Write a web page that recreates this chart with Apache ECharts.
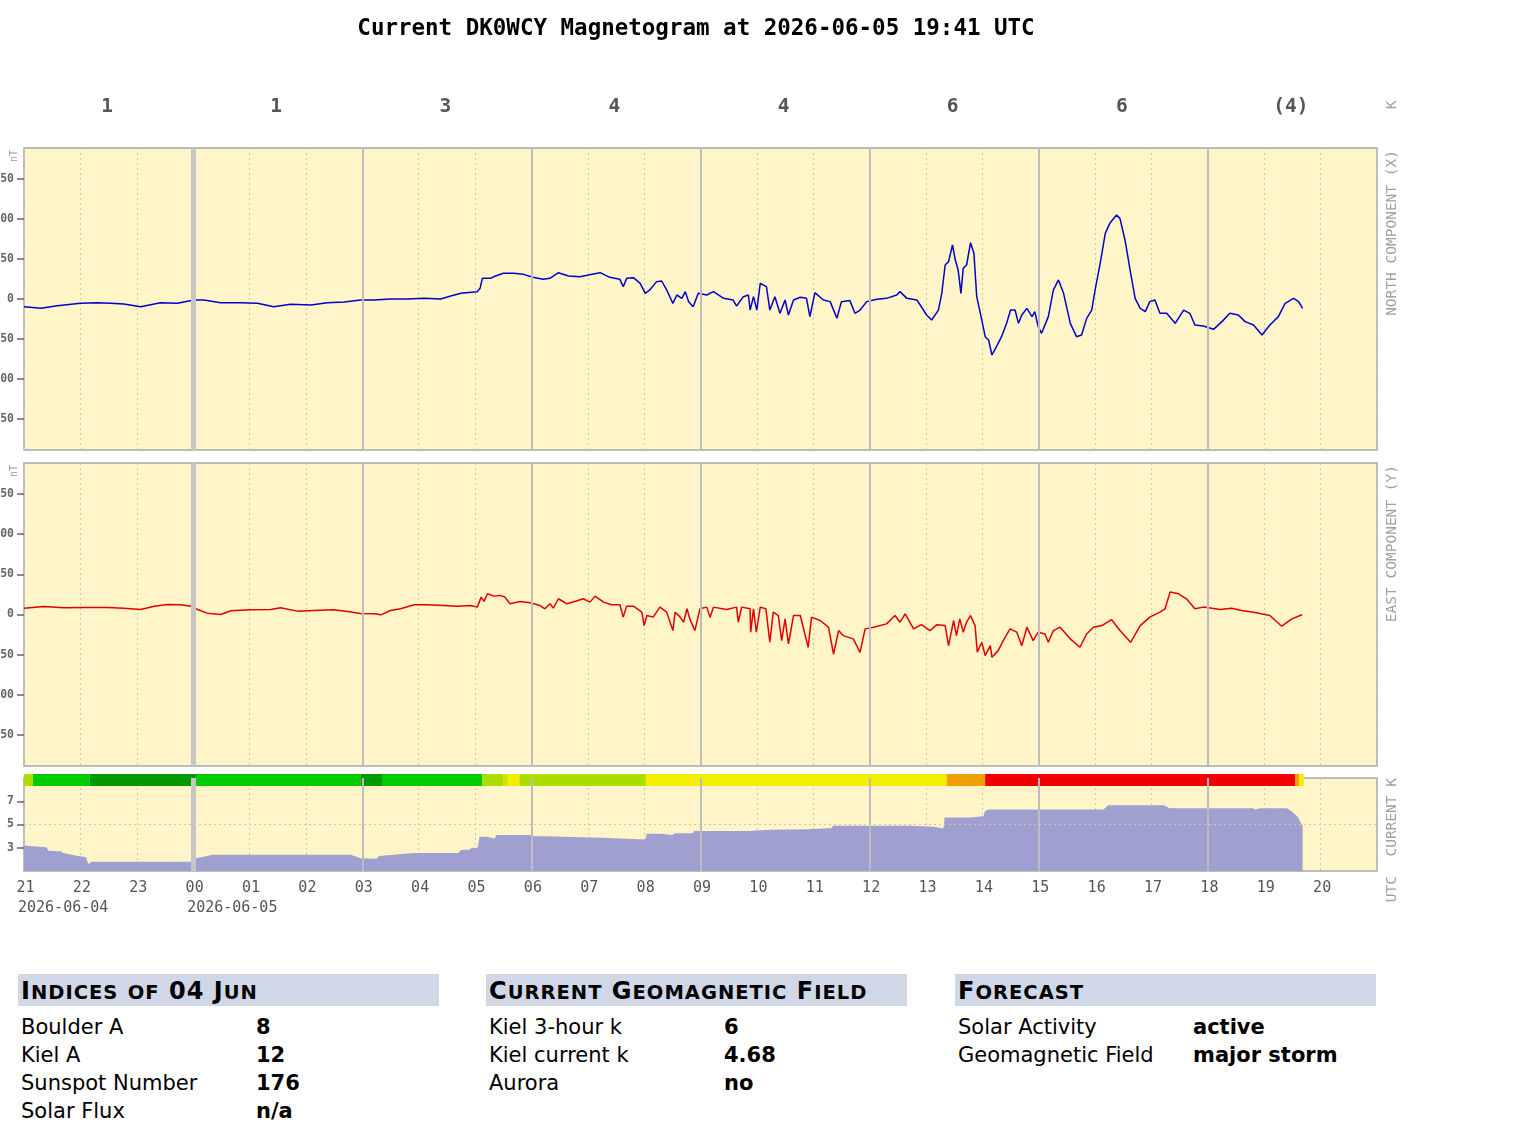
<!DOCTYPE html>
<html>
<head>
<meta charset="utf-8">
<title>DK0WCY Magnetogram</title>
<script src="https://cdn.jsdelivr.net/npm/echarts@6/dist/echarts.min.js"></script>
<style>
body { margin: 0; background: #fff; width: 1527px; height: 1138px; position: relative; overflow: hidden; font-family: "DejaVu Sans", Verdana, sans-serif; }
#chart { position: absolute; left: 0; top: 0; width: 1527px; height: 940px; }
.box { position: absolute; top: 974px; width: 421px; color: #000; }
.box h2 { margin: 0; height: 32px; line-height: 34px; background: #d0d8e8; font-size: 24px; font-weight: bold; padding-left: 3px; letter-spacing: 1px; white-space: nowrap; }
.box h2 span { font-size: 19.5px; }
.box table { border-collapse: collapse; margin-top: 7px; }
.box td { font-size: 21px; height: 28px; padding: 0 0 0 3px; white-space: nowrap; }
.box td.k { width: 232px; }
.box td.v { font-weight: bold; }
</style>
</head>
<body>
<div id="chart"></div>
<script>
// hours relative to 2026-06-05 00:00 UTC, axis runs 21 UTC (day before) -> 21 UTC
const kIndex3h = ['1', '1', '3', '4', '4', '6', '6', '(4)'];
const kIndexMid = [-1.5, 1.5, 4.5, 7.5, 10.5, 13.5, 16.5, 19.5];
const solidHours = [0, 3, 6, 9, 12, 15, 18];
const dateTicks = [-3, 0];
const dateNames = ['2026-06-04', '2026-06-05'];

// north component (X), [hour, nT]
const northX = [
  [-3.00, -9.6], [-2.70, -11.6], [-2.41, -8.3], [-2.00, -5.4], [-1.70, -4.6], [-1.46, -5.4],
  [-1.23, -6.3], [-0.93, -9.6], [-0.58, -4.6], [-0.28, -5.4], [0.02, -1.3], [0.19, -1.3],
  [0.49, -4.6], [0.84, -4.6], [1.14, -5.4], [1.43, -9.6], [1.73, -6.7], [2.09, -7.5],
  [2.38, -4.6], [2.68, -3.8], [2.97, -1.3], [3.21, -1.3], [3.50, 0], [3.80, 0],
  [4.10, 0.8], [4.39, 0], [4.57, 3.8], [4.75, 7.1], [5.04, 9.2], [5.09, 13.3],
  [5.13, 25.8], [5.28, 25.8], [5.33, 27.9], [5.50, 32.1], [5.68, 32.1], [5.86, 30.8],
  [6.03, 27.1], [6.21, 24.6], [6.33, 25.8], [6.48, 32.9], [6.66, 28.8], [6.86, 27.9],
  [7.10, 31.3], [7.22, 32.9], [7.39, 27.1], [7.57, 24.6], [7.63, 15.4], [7.69, 25.8],
  [7.81, 26.7], [7.93, 19.6], [8.02, 7.1], [8.10, 11.3], [8.22, 21.7], [8.31, 22.5],
  [8.40, 11.3], [8.51, -5.4], [8.58, 5], [8.67, 0.8], [8.73, 9.2], [8.79, -3.3],
  [8.87, -9.6], [8.96, 7.1], [9.11, 5], [9.23, 9.2], [9.41, 0.8], [9.58, -1.3],
  [9.64, -8.8], [9.76, 2.9], [9.85, 5], [9.88, -13.8], [9.94, 2.9], [10.00, -13.8],
  [10.06, 19.6], [10.17, 15.4], [10.23, -13.8], [10.32, 2.9], [10.41, -17.9], [10.50, -1.3],
  [10.56, -20], [10.65, -1.3], [10.77, 2.1], [10.88, 0.8], [10.94, -22], [11.03, 7.9],
  [11.18, -1.3], [11.30, -3.3], [11.42, -24], [11.50, -3.3], [11.65, -2], [11.74, -17.9],
  [11.83, -13.8], [11.95, -3.3], [12.13, -0.4], [12.30, 0.8], [12.48, 5], [12.54, 9.2],
  [12.66, 0.8], [12.84, -1.3], [12.92, -10], [13.01, -20], [13.10, -26.3], [13.22, -14],
  [13.28, 7.1], [13.34, 42.5], [13.40, 46.7], [13.47, 67.5], [13.52, 48.8], [13.57, 36.3],
  [13.62, 7.1], [13.66, 38.3], [13.72, 42.5], [13.79, 70.4], [13.85, 57.1], [13.90, 2.9],
  [13.99, -26.3], [14.05, -47.1], [14.11, -51.3], [14.17, -70], [14.25, -59.6], [14.34, -47.1],
  [14.43, -30.4], [14.50, -13.8], [14.58, -13.8], [14.64, -30.4], [14.70, -20], [14.79, -11.7],
  [14.88, -22], [14.93, -15.8], [14.99, -34.6], [15.05, -42.9], [15.17, -22], [15.26, 11.3],
  [15.35, 23.8], [15.44, 7.1], [15.56, -30.4], [15.67, -47.1], [15.76, -45], [15.85, -24.2],
  [15.94, -13.8], [16.00, 11.3], [16.09, 44.6], [16.18, 82], [16.26, 94.6], [16.38, 105],
  [16.44, 100.8], [16.53, 73.8], [16.62, 36.3], [16.71, 0.8], [16.80, -11.7], [16.89, -15.8],
  [16.97, -3.3], [17.06, -1.3], [17.15, -17.9], [17.27, -17.9], [17.42, -30.4], [17.57, -13.8],
  [17.68, -17.9], [17.77, -32.5], [17.92, -33.8], [18.10, -37.9], [18.25, -28.3], [18.39, -17.9],
  [18.54, -20], [18.66, -28.3], [18.81, -32.5], [18.96, -45], [19.10, -32.5], [19.25, -22],
  [19.37, -5.4], [19.52, 0.8], [19.61, -3.3], [19.68, -11.7]
];

// east component (Y), [hour, nT]
const eastY = [
  [-3.00, 7.9], [-2.65, 10], [-2.29, 8.3], [-1.94, 8.8], [-1.52, 8.8], [-1.23, 7.9],
  [-0.93, 6.3], [-0.69, 10.4], [-0.46, 12.5], [-0.22, 12.1], [-0.04, 10.4], [0.08, 6.3],
  [0.25, 1.7], [0.49, 0], [0.67, 4.6], [1.02, 5.8], [1.38, 6.3], [1.55, 8.3],
  [1.85, 4.2], [2.14, 5], [2.50, 5.8], [2.74, 3.8], [2.97, 1.3], [3.21, 0.8],
  [3.33, -0.4], [3.50, 5], [3.68, 7.1], [3.92, 12.1], [4.16, 12.1], [4.45, 11.3],
  [4.69, 10.4], [4.92, 11.3], [5.04, 9.2], [5.11, 21.7], [5.16, 16.3], [5.22, 25.8],
  [5.34, 22.9], [5.44, 23.8], [5.53, 21.7], [5.62, 13.3], [5.80, 16.3], [5.98, 14.6],
  [6.15, 11.3], [6.24, 7.1], [6.33, 13.3], [6.39, 7.9], [6.48, 19.6], [6.63, 13.3],
  [6.77, 16.3], [6.92, 19.6], [7.04, 15.4], [7.13, 22.9], [7.28, 15.4], [7.42, 12.1],
  [7.57, 12.1], [7.63, -3.3], [7.69, 10.4], [7.81, 10.4], [7.96, 2.9], [8.00, -13.8],
  [8.05, -1.3], [8.16, -3.3], [8.28, 9.2], [8.40, 2.9], [8.51, -20], [8.55, 2.9],
  [8.64, -3.3], [8.70, -9.6], [8.76, 7.1], [8.81, -5.4], [8.90, -20], [8.99, 7.1],
  [9.11, 9.2], [9.17, -3.3], [9.23, 9.2], [9.46, 6.3], [9.64, 9.2], [9.67, -9.6],
  [9.73, 9.2], [9.88, 7.1], [9.89, -22], [9.94, 7.1], [9.99, -22], [10.06, 9.2],
  [10.16, 7.1], [10.23, -34.6], [10.29, 2.9], [10.38, -1.3], [10.44, -32.5], [10.50, -5.4],
  [10.56, -36.7], [10.65, -1.3], [10.77, -1.3], [10.91, -40.8], [10.97, -3.3], [11.12, -7.5],
  [11.27, -15.8], [11.36, -49.2], [11.45, -20], [11.53, -26.3], [11.71, -30.4], [11.83, -47.1],
  [11.92, -17.9], [12.07, -15.8], [12.30, -11.7], [12.45, -1.3], [12.54, -9.6], [12.63, 0.8],
  [12.78, -17.9], [12.92, -12.5], [13.07, -20], [13.19, -12.9], [13.34, -13.8], [13.40, -38.8],
  [13.49, -7.5], [13.54, -26.3], [13.60, -5.4], [13.66, -22], [13.72, -9.6], [13.79, -1.3],
  [13.87, -13.8], [13.91, -47.1], [13.99, -34.6], [14.05, -51.3], [14.14, -38.8], [14.17, -53.3],
  [14.28, -45], [14.37, -32.5], [14.49, -17.9], [14.61, -22], [14.70, -38.8], [14.79, -15.8],
  [14.90, -32.5], [14.99, -22], [15.11, -24.2], [15.17, -34.6], [15.26, -20], [15.38, -15.8],
  [15.56, -30.4], [15.73, -40.8], [15.85, -24.2], [15.97, -15.8], [16.12, -13.8], [16.29, -6.3],
  [16.44, -20], [16.63, -34.6], [16.80, -13.8], [16.97, -3.3], [17.15, 2.9], [17.24, 7.1],
  [17.33, 27.9], [17.48, 25.8], [17.62, 19.6], [17.77, 7.1], [17.92, 9.2], [18.22, 6.3],
  [18.42, 7.9], [18.60, 5], [18.81, 2.9], [19.10, -1.3], [19.31, -14.6], [19.49, -5.4],
  [19.67, -0.4]
];

// current K, [hour, K]
const currentK = [
  [-3.00, 3.2], [-2.60, 3.05], [-2.57, 2.75], [-2.35, 2.7], [-2.30, 2.55], [-2.05, 2.3],
  [-1.90, 2.2], [-1.86, 1.6], [-1.80, 1.8], [-0.02, 1.8], [0.05, 2.1], [0.25, 2.3],
  [0.35, 2.4], [2.80, 2.4], [2.97, 2.1], [3.25, 2.05], [3.30, 2.3], [3.55, 2.4],
  [3.90, 2.55], [4.70, 2.55], [4.75, 2.8], [4.90, 2.85], [4.95, 3.0], [5.05, 3.0],
  [5.08, 3.95], [5.20, 3.95], [5.22, 3.8], [5.35, 3.8], [5.38, 4.1], [6.00, 4.1],
  [6.05, 4.0], [6.25, 4.0], [6.28, 3.85], [7.25, 3.85], [7.28, 3.7], [8.02, 3.7],
  [8.05, 4.2], [8.30, 4.2], [8.32, 4.1], [8.50, 4.1], [8.55, 4.25], [8.86, 4.25],
  [8.88, 4.45], [9.87, 4.45], [9.89, 4.55], [10.23, 4.55], [10.25, 4.6], [10.90, 4.6],
  [10.92, 4.7], [11.33, 4.7], [11.35, 4.9], [12.75, 4.9], [12.77, 4.8], [13.15, 4.8],
  [13.17, 4.65], [13.31, 4.65], [13.33, 5.6], [13.78, 5.6], [13.80, 5.7], [14.02, 5.7],
  [14.04, 6.1], [14.10, 6.3], [16.15, 6.3], [16.23, 6.65], [17.22, 6.65], [17.32, 6.4],
  [18.80, 6.4], [18.84, 6.3], [18.92, 6.4], [19.40, 6.4], [19.50, 6.1], [19.60, 5.6],
  [19.68, 4.9]
];

// colour bar above the current K panel, [from hour, to hour, activity class]
const kBar = [
  [-3.00, -2.84, 2], [-2.84, -1.84, 1], [-1.84, 0.05, 0], [0.05, 2.97, 1], [2.97, 3.35, 0],
  [3.35, 5.13, 1], [5.13, 5.50, 2], [5.50, 5.58, 3], [5.58, 5.79, 4], [5.79, 8.03, 2],
  [8.03, 13.37, 4], [13.37, 14.05, 5], [14.05, 19.55, 6], [19.55, 19.62, 5], [19.62, 19.70, 4]
];
const KCOLORS = ['#009a00', '#00cc00', '#acdc00', '#cde600', '#f4ef00', '#f0a000', '#f00000'];

const indicesRows = [['Boulder A', '8'], ['Kiel A', '12'], ['Sunspot Number', '176'], ['Solar Flux', 'n/a']];
const fieldRows = [['Kiel 3-hour k', '6'], ['Kiel current k', '4.68'], ['Aurora', 'no']];
const forecastRows = [['Solar Activity', 'active'], ['Geomagnetic Field', 'major storm']];
const boxTitles = ['Indices of 04 Jun', 'Current Geomagnetic Field', 'Forecast'];

const BG = '#fff5c8';
const BORDER = '#a8a8a8';
const MONO = '"DejaVu Sans Mono", monospace';
const PANEL_LEFT = 24, PANEL_W = 1353;
const NT_MAX = 188.75;

const pad2 = h => (h < 10 ? '0' : '') + h;

function grid(top, height, show) {
  return { left: PANEL_LEFT, width: PANEL_W, top: top, height: height, show: show,
    outerBoundsMode: 'none', containLabel: false,
    backgroundColor: BG, borderColor: BORDER, borderWidth: 1.5 };
}

function hourAxis(gridIndex, withLabels) {
  return {
    type: 'value', gridIndex: gridIndex, min: -3, max: 21, interval: 1, position: 'bottom',
    axisLine: { show: false, onZero: false }, axisTick: { show: false },
    axisLabel: withLabels ? {
      show: true, showMinLabel: true, showMaxLabel: false, hideOverlap: false,
      margin: 10, padding: [0, 0, 0, 3], color: '#555', fontFamily: MONO, fontSize: 15,
      formatter: v => (v >= 21 ? '' : pad2(((v % 24) + 24) % 24))
    } : { show: false },
    splitLine: { show: true, lineStyle: { color: '#cfc8a8', type: [2, 3], width: 1 } }
  };
}

function ntAxis(gridIndex) {
  const ticks = [-150, -100, -50, 0, 50, 100, 150];
  return {
    type: 'value', gridIndex: gridIndex, min: -NT_MAX, max: NT_MAX,
    axisLine: { show: false, onZero: false },
    axisTick: { show: true, length: 7, customValues: ticks, lineStyle: { color: '#666', width: 1.5 } },
    axisLabel: { show: true, customValues: ticks, margin: 10, color: '#666',
      fontFamily: MONO, fontSize: 11.5, fontWeight: 'bold' },
    splitLine: { show: false }
  };
}

function guideSeries(xIdx, yIdx, extra) {
  const data = solidHours.map(h => ({
    xAxis: h,
    lineStyle: h === 0 ? { color: '#c6c6c6', width: 5, type: 'solid' } : { color: '#bdbdbd', width: 2, type: 'solid' }
  }));
  return {
    type: 'line', xAxisIndex: xIdx, yAxisIndex: yIdx, data: [], z: 1, silent: true,
    markLine: { symbol: 'none', silent: true, animation: false, label: { show: false },
      data: data.concat(extra || []) }
  };
}

const chart = echarts.init(document.getElementById('chart'), null, { renderer: 'canvas' });

const option = {
  animation: false,
  grid: [grid(148, 302, true), grid(463, 303, true), grid(778, 93, true), grid(774, 12, false)],
  xAxis: [
    hourAxis(0, false),
    {
      type: 'value', gridIndex: 0, min: -3, max: 21, position: 'top',
      axisLine: { show: false, onZero: false }, axisTick: { show: false }, splitLine: { show: false },
      axisLabel: { show: true, customValues: kIndexMid, margin: 31, color: '#555',
        fontFamily: MONO, fontSize: 19.5, fontWeight: 'bold', padding: [0, 3, 0, 0],
        formatter: v => kIndex3h[kIndexMid.indexOf(v)] || '' }
    },
    hourAxis(1, false),
    hourAxis(2, true),
    { type: 'value', gridIndex: 3, min: -3, max: 21, show: false },
    {
      type: 'value', gridIndex: 2, min: -3, max: 21, position: 'bottom',
      axisLine: { show: false, onZero: false }, axisTick: { show: false }, splitLine: { show: false },
      axisLabel: { show: true, customValues: dateTicks, showMinLabel: true, hideOverlap: false,
        align: 'left', padding: [0, 0, 0, -6], margin: 30, color: '#555', fontFamily: MONO, fontSize: 15,
        formatter: v => dateNames[dateTicks.indexOf(v)] || '' }
    }
  ],
  yAxis: [
    ntAxis(0),
    ntAxis(1),
    {
      type: 'value', gridIndex: 2, min: 1, max: 9,
      axisLine: { show: false, onZero: false },
      axisTick: { show: true, length: 7, customValues: [3, 5, 7], lineStyle: { color: '#666', width: 1.5 } },
      axisLabel: { show: true, customValues: [3, 5, 7], margin: 10, color: '#666',
        fontFamily: MONO, fontSize: 11.5, fontWeight: 'bold' },
      splitLine: { show: false }
    },
    { type: 'value', gridIndex: 3, min: 0, max: 1, show: false }
  ],
  series: [
    guideSeries(0, 0),
    guideSeries(2, 1),
    guideSeries(3, 2, [{ yAxis: 5, lineStyle: { color: '#cfc8a8', type: [2, 3], width: 1 } }]),
    {
      name: 'North component (X)', type: 'line', xAxisIndex: 0, yAxisIndex: 0, data: northX,
      showSymbol: false, z: 3, lineStyle: { color: '#0000cc', width: 1.5 }
    },
    {
      name: 'East component (Y)', type: 'line', xAxisIndex: 2, yAxisIndex: 1, data: eastY,
      showSymbol: false, z: 3, lineStyle: { color: '#e00000', width: 1.5 }
    },
    {
      name: 'Current K', type: 'line', xAxisIndex: 3, yAxisIndex: 2, data: currentK,
      showSymbol: false, z: 3, lineStyle: { width: 0 },
      areaStyle: { color: '#a0a0d0', opacity: 1, origin: 'start' }
    },
    {
      name: 'K colour bar', type: 'custom', xAxisIndex: 4, yAxisIndex: 3, data: kBar, z: 4,
      encode: { x: [0, 1] },
      renderItem: (params, api) => {
        const p0 = api.coord([api.value(0), 1]);
        const p1 = api.coord([api.value(1), 0]);
        return { type: 'rect', shape: { x: p0[0], y: p0[1], width: p1[0] - p0[0], height: p1[1] - p0[1] },
          style: { fill: KCOLORS[api.value(2)] } };
      }
    }
  ],
  graphic: [
    { type: 'text', x: 696, y: 29, style: { text: 'Current DK0WCY Magnetogram at 2026-06-05 19:41 UTC',
      align: 'center', verticalAlign: 'middle', font: 'bold 22.5px ' + MONO, fill: '#000' } },
    { type: 'text', x: 1392, y: 105, rotation: Math.PI / 2, style: { text: 'K', align: 'center', verticalAlign: 'middle', font: '14.5px ' + MONO, fill: '#a0a0a0' } },
    { type: 'text', x: 1392, y: 150, rotation: Math.PI / 2, style: { text: 'NORTH COMPONENT (X)', align: 'right', verticalAlign: 'middle', font: '14.5px ' + MONO, fill: '#a0a0a0' } },
    { type: 'text', x: 1392, y: 465, rotation: Math.PI / 2, style: { text: 'EAST COMPONENT (Y)', align: 'right', verticalAlign: 'middle', font: '14.5px ' + MONO, fill: '#a0a0a0' } },
    { type: 'text', x: 1392, y: 778, rotation: Math.PI / 2, style: { text: 'CURRENT K', align: 'right', verticalAlign: 'middle', font: '14.5px ' + MONO, fill: '#a0a0a0' } },
    { type: 'text', x: 1392, y: 876, rotation: Math.PI / 2, style: { text: 'UTC', align: 'right', verticalAlign: 'middle', font: '14.5px ' + MONO, fill: '#a0a0a0' } },
    { type: 'text', x: 14, y: 150, rotation: Math.PI / 2, style: { text: 'nT', align: 'right', verticalAlign: 'middle', font: '10px ' + MONO, fill: '#999' } },
    { type: 'text', x: 14, y: 465, rotation: Math.PI / 2, style: { text: 'nT', align: 'right', verticalAlign: 'middle', font: '10px ' + MONO, fill: '#999' } }
  ]
};
chart.setOption(option);

// small caps heading: capitals and digits full size, lower case letters as smaller capitals
function smallCaps(el, text) {
  text.split(/(\s+)/).forEach(part => {
    let i = 0;
    while (i < part.length) {
      const lower = /[a-z]/.test(part[i]);
      let j = i;
      while (j < part.length && /[a-z]/.test(part[j]) === lower) j++;
      const chunk = part.slice(i, j);
      if (lower) {
        const s = document.createElement('span');
        s.textContent = chunk.toUpperCase();
        el.appendChild(s);
      } else {
        el.appendChild(document.createTextNode(chunk));
      }
      i = j;
    }
  });
}

// info boxes under the chart
const boxLefts = [18, 486, 955];
[indicesRows, fieldRows, forecastRows].forEach((rows, i) => {
  const box = document.createElement('div');
  box.className = 'box';
  box.style.left = boxLefts[i] + 'px';
  const h = document.createElement('h2');
  smallCaps(h, boxTitles[i]);
  box.appendChild(h);
  const table = document.createElement('table');
  rows.forEach(r => {
    const tr = document.createElement('tr');
    const k = document.createElement('td');
    k.className = 'k';
    k.textContent = r[0];
    const v = document.createElement('td');
    v.className = 'v';
    v.textContent = r[1];
    tr.appendChild(k);
    tr.appendChild(v);
    table.appendChild(tr);
  });
  box.appendChild(table);
  document.body.appendChild(box);
});
</script>
</body>
</html>
